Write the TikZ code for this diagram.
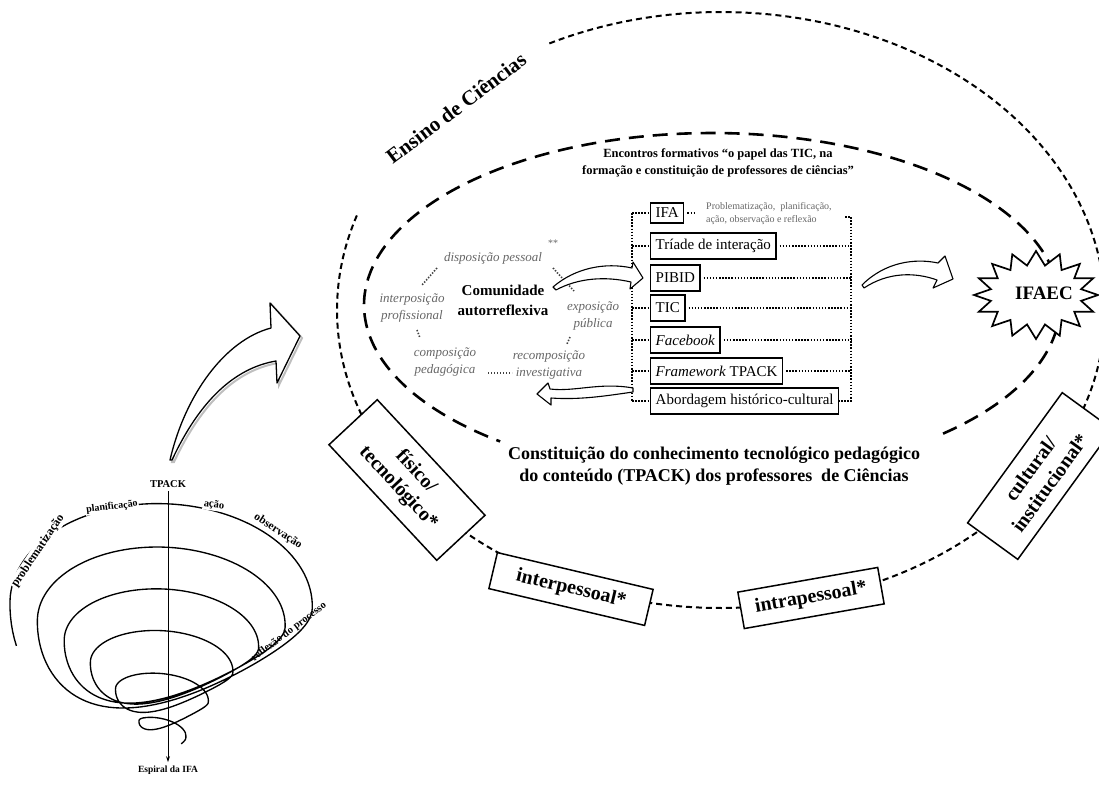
\documentclass[tikz,border=0pt]{standalone}
\usepackage{fontspec}
\setmainfont{Liberation Serif}
\usetikzlibrary{arrows.meta,calc}
\begin{document}
\begin{tikzpicture}[x=1pt,y=-1pt,
  outerdash/.style={line width=2pt, dash pattern=on 6pt off 4pt},
  innerdash/.style={line width=2.6pt, dash pattern=on 15pt off 9pt},
  dotl/.style={line width=1.7pt, dash pattern=on 1.5pt off 1.6pt},
  cyc/.style={line width=1.6pt, dash pattern=on 1.4pt off 1.6pt, black!75},
  itemtag/.style={draw, line width=1.4pt, fill=white, anchor=west, font=\fontsize{15}{18}\selectfont, inner xsep=5pt, inner ysep=2pt, minimum height=26pt},
  lbl/.style={font=\itshape\fontsize{13}{17}\selectfont, text=black!60, align=center, inner sep=1pt},
  dimbox/.style={draw, line width=1.5pt, fill=white, font=\bfseries\fontsize{20}{24}\selectfont, align=center, inner sep=3pt},
  hollow/.style={draw, line width=1.1pt, fill=white, line join=round},
  conel/.style={line width=1.35pt},
  conelbl/.style={font=\bfseries\fontsize{10}{12}\selectfont, fill=white, inner sep=1pt},
]
\useasboundingbox (0,0) rectangle (1099,788);
\clip (0,0) rectangle (1099,788);

% ---------- ellipses
\draw[outerdash] plot[domain=161.5:477, samples=300] ({721+384*cos(\x)},{310-298*sin(\x)});
\draw[innerdash] plot[domain=311.6:592.5, samples=300] ({712+348*cos(\x)},{305-172*sin(\x)});

\node[font=\bfseries\fontsize{21}{24}\selectfont, rotate=37] (ensino) at (456,108) {Ensino de Ciências};

\node[font=\bfseries\fontsize{12.5}{17}\selectfont, align=center] (titulo) at (718,163)
  {Encontros formativos “o papel das TIC, na\\formação e constituição de professores de ciências”};

\node[font=\bfseries\fontsize{18}{22}\selectfont, align=center] (constit) at (714,466)
  {Constituição do conhecimento tecnológico pedagógico\\do conteúdo (TPACK) dos professores~ de Ciências};

% ---------- boxes column
\node[itemtag, minimum height=20pt, inner ysep=1pt] (ifa) at (650,213) {IFA};
\node[itemtag] (triade) at (650,246) {Tríade de interação};
\node[itemtag] (pibid) at (650,278) {PIBID};
\node[itemtag] (tic) at (650,308) {TIC};
\node[itemtag] (facebook) at (650,340) {\textit{Facebook}};
\node[itemtag] (framework) at (650,371) {\textit{Framework} TPACK};
\node[itemtag] (abord) at (650,401) {Abordagem histórico-cultural};
\node[font=\fontsize{10}{13}\selectfont, text=black!60, align=left, anchor=west, inner sep=0pt] (ifadesc) at (706,214)
  {Problematização,~ planificação,\\ação, observação e reflexão};

\coordinate (lv) at (632,0);
\coordinate (rv) at (851,0);
\draw[dotl] (ifa.west -| lv) -- (abord.west -| lv);
\foreach \n in {ifa,triade,tic,facebook,framework,abord}
  \draw[dotl] (\n.west -| lv) -- (\n.west);
\draw[dotl] ([xshift=3pt]ifa.east) -- ++(9,0);
\draw[dotl] ($(ifa.east -| rv)+(-6,4)$) -- ($(ifa.east -| rv)+(0,4)$) -- (abord.east -| rv) -- (abord.east);
\foreach \n in {triade,pibid,tic,facebook,framework}
  \draw[dotl] ([xshift=3pt]\n.east) -- (\n.east -| rv);

% ---------- self-reflexive community cycle
\node[lbl] (disp) at (493,258) {disposição pessoal};
\node[font=\fontsize{10}{12}\selectfont, text=black!60] (ast) at (553,243) {**};
\node[lbl] (interp) at (412,308) {interposição\\profissional};
\node[font=\bfseries\fontsize{15}{20}\selectfont, align=center] (comun) at (503,300) {Comunidade\\autorreflexiva};
\node[lbl] (expo) at (593,316) {exposição\\pública};
\node[lbl] (comp) at (445,362) {composição\\pedagógica};
\node[lbl] (recomp) at (549,365) {recomposição\\investigativa};

\draw[cyc] (437,268) -- (422,285);
\draw[cyc] (417,330) -- (420,338);
\draw[cyc] (488,373) -- (512,373);
\draw[cyc] (570,337) -- (567,344);
\draw[cyc] (553,268) -- (574,291);

% ---------- hollow arrows
\draw[hollow] (553,287) .. controls (575,268) and (605,262) .. (632,268) -- (633,262)
  -- ([xshift=-7pt]pibid.west) -- (630,289) -- (631,282)
  .. controls (605,276) and (578,278) .. (556,290) -- cycle;
\draw[hollow] (633,388) .. controls (600,382) and (575,392) .. (550,389) -- (548,383)
  -- (537,394) -- (551,405) -- (551,398)
  .. controls (580,400) and (605,396) .. (633,392) -- cycle;
\draw[hollow] (862,285) .. controls (885,262) and (915,258) .. (938,263) -- (945,256)
  -- (953,279) -- (933,288) -- (937,280)
  .. controls (915,272) and (888,272) .. (864,288) -- cycle;

% ---------- IFAEC star
\coordinate (starc) at (1036,295);
\draw[line width=1.7pt, fill=white, line join=miter]
  (1098,295) \foreach \i in {0,...,15} {
    -- ({1036+62*cos(\i*360/16)},{295+44*sin(\i*360/16)})
    -- ({1036+46*cos((\i+0.5)*360/16)},{295+30*sin((\i+0.5)*360/16)}) } -- cycle;
\node[font=\bfseries\fontsize{19}{22}\selectfont] (ifaec) at (1044,293) {IFAEC};

% ---------- dimension boxes on the outer ellipse
\node[dimbox, rotate=-47, minimum width=158pt, minimum height=66pt] (fisico) at (407,480) {físico/\\tecnológico*};
\node[dimbox, rotate=-13.3, minimum width=160pt, minimum height=37pt] (inter) at (571,589) {interpessoal*};
\node[dimbox, rotate=10, minimum width=142pt, minimum height=37pt] (intra) at (811,598) {intrapessoal*};
\node[dimbox, rotate=54, minimum width=161pt, minimum height=62pt] (cultural) at (1040,476) {cultural/\\institucional*};

% ---------- spiral cone
\node[font=\bfseries\fontsize{10.5}{12}\selectfont] (tpack) at (168,484) {TPACK};
\node[font=\bfseries\fontsize{9.5}{11}\selectfont] (espiral) at (168,770) {Espiral da IFA};
\draw[conel] plot[domain=-0.05:5.6, samples=700, variable=\ss]
  ({168+(12+146*(1-\ss/5.8)^1.1)*cos(180-360*\ss)},
   {600+18*\ss+0.24*\ss^3-(12+146*(1-\ss/5.8)^1.1)*((0.68-0.055*\ss)*sin(180-360*\ss)+0.28*cos(180-360*\ss)*max(0,-sin(180-360*\ss)))});
\draw[line width=0.9pt, -{Stealth[length=6pt,width=4pt]}] (tpack.south) -- (espiral.north);
\node[conelbl, rotate=56, font=\bfseries\fontsize{12}{13}\selectfont] (probl) at (38,551) {problematização};
\node[conelbl, rotate=7] (planif) at (112,507) {planificação};
\node[conelbl, rotate=-8, font=\bfseries\fontsize{10.5}{12}\selectfont] (acao) at (214,505) {ação};
\node[conelbl, rotate=-33, font=\bfseries\fontsize{11.5}{12}\selectfont] (observ) at (278,531) {observação};
\node[font=\bfseries\fontsize{10.5}{12}\selectfont, rotate=37] (reflex) at (289,632) {reflexão do processo};

% ---------- big arrow from spiral to the ellipse
\draw[line width=2pt, black!25, shift={(2,2)}] (170,460) .. controls (185,395) and (225,340) .. (271,328) -- (270,303)
  -- (300,336) -- (277,383) -- (276,361) .. controls (235,368) and (200,400) .. (172,460) -- cycle;
\draw[hollow, line width=1.3pt] (170,460) .. controls (185,395) and (225,340) .. (271,328) -- (270,303)
  -- (300,336) -- (277,383) -- (276,361) .. controls (235,368) and (200,400) .. (172,460) -- cycle;
\end{tikzpicture}
\end{document}
